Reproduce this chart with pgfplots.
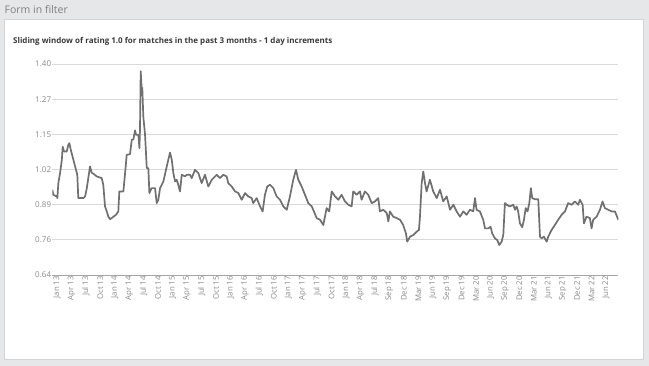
\documentclass[border=0pt]{standalone}
\usepackage{fontspec}
\setmainfont{Open Sans}
\usepackage{pgfplots}
\pgfplotsset{compat=1.18}
\definecolor{bggray}{HTML}{E6E7E9}
\definecolor{hdrtext}{HTML}{808080}
\definecolor{paneledge}{HTML}{D2D4D7}
\definecolor{gridc}{HTML}{DADADA}
\definecolor{linec}{HTML}{707070}
\definecolor{ticktext}{HTML}{8A8A8A}
\definecolor{titletext}{HTML}{3A3A3A}
\definecolor{axisc}{HTML}{A6A6A6}
\begin{document}
\begin{tikzpicture}
\begin{scope}[x=1pt,y=1pt,shift={(-52.3pt,-91pt)}]
\fill[bggray] (0,0) rectangle (649,366);
\fill[white] (4,7) rectangle (643,347);
\draw[paneledge,line width=0.8pt] (4,7) rectangle (643,347);
\node[anchor=west,text=hdrtext,font=\fontsize{10.5}{12}\selectfont,inner sep=0pt] at (4.5,356.5) {Form in filter};
\node[anchor=west,text=titletext,font=\bfseries\fontsize{8}{10}\selectfont,inner sep=0pt] at (13,324.5) {Sliding window of rating 1.0 for matches in the past 3 months - 1 day increments};
\end{scope}
\begin{axis}[
  scale only axis, width=566pt, height=211pt,
  xmin=-0.33, xmax=38.85,
  ymin=0.635, ymax=1.395,
  separate axis lines,
  axis x line*=bottom, axis y line*=left,
  y axis line style={draw=none},
  x axis line style={axisc,line width=0.8pt},
  major tick length=0pt,
  ymajorgrids, grid style={gridc,line width=0.8pt},
  ytick={0.635,0.7617,0.8883,1.015,1.1417,1.2683,1.395},
  yticklabels={0.64,0.76,0.89,1.02,1.15,1.27,1.40},
  yticklabel style={font=\fontsize{8}{9}\selectfont,text=ticktext,inner sep=1pt},
  xtick={0,...,38},
  xticklabels={Jan 13,Apr 13,Jul 13,Oct 13,Jan 14,Apr 14,Jul 14,Oct 14,Jan 15,Apr 15,Jul 15,Oct 15,Jan 16,Apr 16,Jul 16,Oct 16,Jan 17,Apr 17,Jul 17,Oct 17,Jan 18,Apr 18,Jul 18,Sep 18,Dec 18,Mar 19,Jun 19,Sep 19,Dec 19,Mar 20,Jun 20,Sep 20,Dec 20,Mar 21,Jun 21,Sep 21,Dec 21,Mar 22,Jun 22},
  xticklabel style={font=\fontsize{7.8}{8}\selectfont,text=ticktext,rotate=90,anchor=east,inner sep=1pt},
  clip=true,
]
\addplot[linec,line width=1.7pt,line join=round,sharp plot] table {
x y
-0.33 0.942
-0.26 0.924
-0.02 0.918
0.02 0.912
0.09 0.967
0.21 1.003
0.33 1.050
0.39 1.097
0.48 1.080
0.67 1.080
0.78 1.104
0.85 1.110
0.95 1.086
1.13 1.050
1.31 1.014
1.40 0.996
1.47 0.912
1.82 0.912
1.94 0.918
2.06 0.948
2.28 1.026
2.40 1.003
2.51 1.000
2.75 0.990
3.09 0.984
3.20 0.960
3.32 0.882
3.44 0.864
3.55 0.845
3.67 0.836
3.90 0.845
4.08 0.852
4.24 0.864
4.31 0.936
4.59 0.936
4.71 1.002
4.82 1.068
5.05 1.070
5.17 1.122
5.28 1.123
5.40 1.156
5.47 1.140
5.63 1.140
5.70 1.092
5.74 1.158
5.79 1.369
5.86 1.303
5.90 1.309
5.97 1.206
6.09 1.140
6.21 1.020
6.32 1.020
6.39 0.930
6.55 0.948
6.78 0.948
6.90 0.894
7.01 0.906
7.13 0.948
7.36 0.972
7.54 1.014
7.70 1.050
7.82 1.076
7.94 1.050
8.05 1.002
8.17 0.972
8.28 0.978
8.39 0.960
8.51 0.936
8.63 0.996
8.86 0.990
8.98 0.996
9.20 0.996
9.32 0.984
9.55 1.014
9.78 1.002
10.01 0.966
10.24 0.996
10.47 0.954
10.71 0.978
11.05 0.996
11.28 0.984
11.51 0.996
11.74 0.990
11.85 0.966
12.09 0.954
12.32 0.936
12.55 0.930
12.78 0.906
13.01 0.930
13.24 0.918
13.47 0.912
13.58 0.894
13.82 0.912
14.05 0.882
14.23 0.864
14.39 0.924
14.55 0.954
14.74 0.960
14.97 0.948
15.20 0.918
15.43 0.906
15.66 0.882
15.90 0.870
16.12 0.918
16.35 0.978
16.54 1.014
16.70 0.978
16.93 0.954
17.16 0.924
17.39 0.894
17.63 0.882
17.78 0.864
17.97 0.840
18.20 0.834
18.43 0.815
18.66 0.876
18.84 0.864
19.01 0.936
19.24 0.918
19.47 0.906
19.70 0.924
19.93 0.900
20.16 0.888
20.39 0.882
20.50 0.936
20.74 0.924
20.97 0.936
21.08 0.906
21.31 0.936
21.54 0.924
21.78 0.894
22.01 0.900
22.23 0.912
22.35 0.864
22.58 0.870
22.82 0.858
22.93 0.828
23.04 0.864
23.27 0.845
23.51 0.840
23.74 0.834
23.96 0.815
24.15 0.785
24.24 0.755
24.43 0.773
24.66 0.779
24.89 0.791
25.05 0.797
25.12 0.845
25.24 0.966
25.35 1.008
25.47 0.966
25.58 0.936
25.81 0.978
26.04 0.936
26.28 0.912
26.51 0.942
26.73 0.900
26.97 0.918
27.20 0.870
27.43 0.888
27.66 0.864
27.89 0.845
28.12 0.864
28.35 0.852
28.58 0.870
28.81 0.864
28.93 0.912
29.04 0.870
29.27 0.864
29.50 0.834
29.62 0.803
29.85 0.803
30.01 0.809
30.12 0.785
30.31 0.767
30.47 0.761
30.61 0.743
30.77 0.755
30.89 0.779
31.00 0.894
31.12 0.888
31.35 0.882
31.58 0.888
31.70 0.870
31.81 0.882
31.92 0.864
32.04 0.821
32.20 0.807
32.32 0.834
32.44 0.876
32.57 0.864
32.69 0.894
32.80 0.948
32.89 0.912
33.08 0.908
33.31 0.908
33.43 0.773
33.54 0.767
33.70 0.773
33.89 0.755
34.00 0.773
34.23 0.797
34.46 0.815
34.69 0.834
34.93 0.852
35.16 0.864
35.38 0.894
35.62 0.888
35.85 0.900
36.08 0.888
36.19 0.906
36.38 0.888
36.47 0.821
36.65 0.845
36.88 0.840
37.00 0.803
37.11 0.834
37.35 0.845
37.58 0.870
37.76 0.900
37.92 0.876
38.15 0.870
38.39 0.864
38.62 0.864
38.85 0.834
};
\end{axis}
\end{tikzpicture}
\end{document}
